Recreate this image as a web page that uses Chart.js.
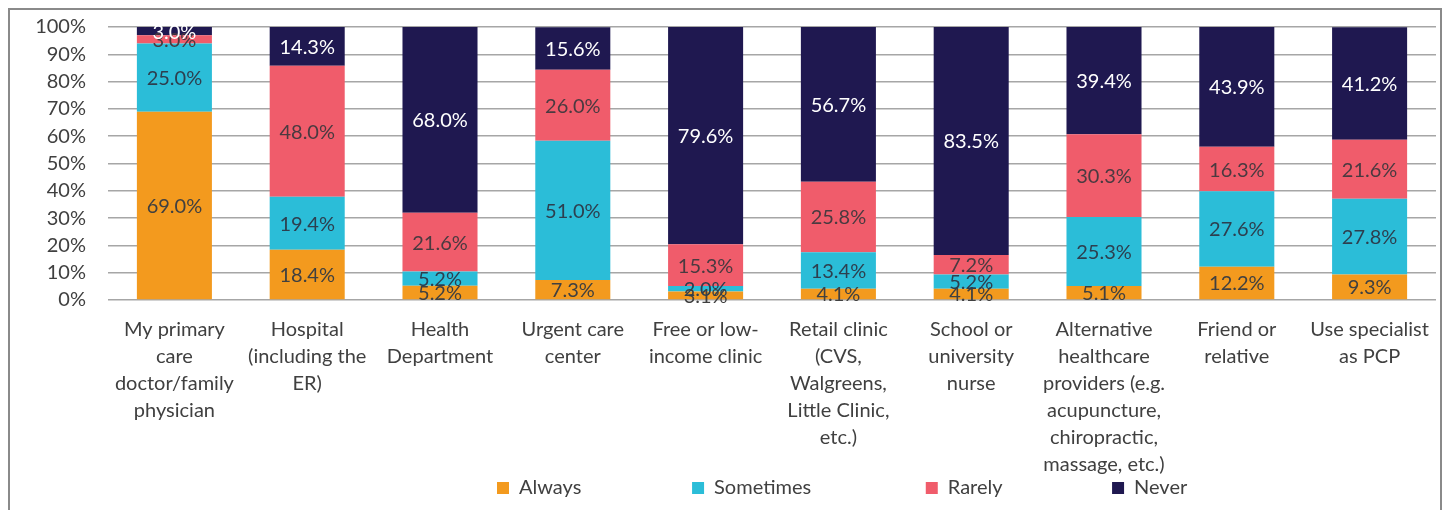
<!DOCTYPE html>
<html>
<head>
<meta charset="utf-8">
<script src="https://cdn.jsdelivr.net/npm/chart.js@4.4.0/dist/chart.umd.min.js"></script>
<style>
    html, body { margin: 0; padding: 0; background: #fff; overflow: hidden; }
    #wrap { position: absolute; left: 0; top: -7px; width: 1449px; height: 517px; }
    #frame { position: absolute; left: 8px; top: 8px; width: 1434px; height: 600px; border: 2px solid #8a8a8a; box-sizing: border-box; pointer-events: none; }
</style>
</head>
<body>
<div id="wrap"><canvas id="myChart"></canvas></div>
<div id="frame"></div>
<script>
// categories and series
const labels = [
    ['My primary', 'care', 'doctor/family', 'physician'],
    ['Hospital', '(including the', 'ER)'],
    ['Health', 'Department'],
    ['Urgent care', 'center'],
    ['Free or low-', 'income clinic'],
    ['Retail clinic', '(CVS,', 'Walgreens,', 'Little Clinic,', 'etc.)'],
    ['School or', 'university', 'nurse'],
    ['Alternative', 'healthcare', 'providers (e.g.', 'acupuncture,', 'chiropractic,', 'massage, etc.)'],
    ['Friend or', 'relative'],
    ['Use specialist', 'as PCP'],
];

const always = [69.0, 18.4, 5.2, 7.3, 3.1, 4.1, 4.1, 5.1, 12.2, 9.3];
const sometimes = [25.0, 19.4, 5.2, 51.0, 2.0, 13.4, 5.2, 25.3, 27.6, 27.8];
const rarely = [3.0, 48.0, 21.6, 26.0, 15.3, 25.8, 7.2, 30.3, 16.3, 21.6];
const never = [3.0, 14.3, 68.0, 15.6, 79.6, 56.7, 83.5, 39.4, 43.9, 41.2];

const yTicks = [0, 10, 20, 30, 40, 50, 60, 70, 80, 90, 100];

const FONT = 'Lato, "Open Sans", sans-serif';
const FS = 20;
const LP = 2; // legend padding

// legend entries sit in wide slots like the original; box left edges in px
const legendSlots = [497, 693, 927, 1114];
const mctx = document.createElement('canvas').getContext('2d');
mctx.font = FS + 'px ' + FONT;
function padText(text, target) {
    let t = text;
    while (mctx.measureText(t + ' ').width <= target) t += ' ';
    while (mctx.measureText(t + '\u200A').width <= target) t += '\u200A';
    return t;
}

// draw the value in the middle of each segment
const segmentLabels = {
    id: 'segmentLabels',
    afterDatasetsDraw(chart) {
        const ctx = chart.ctx;
        ctx.save();
        ctx.font = FS + 'px ' + FONT;
        ctx.textAlign = 'center';
        ctx.textBaseline = 'middle';
        chart.data.datasets.forEach((ds, i) => {
            const meta = chart.getDatasetMeta(i);
            meta.data.forEach((bar, j) => {
                ctx.fillStyle = ds.labelColor;
                ctx.fillText(ds.data[j].toFixed(1) + '%', bar.x, (bar.y + bar.base) / 2 + 1);
            });
        });
        ctx.restore();
    }
};

// move the legend row to where the original has it
const legendShift = {
    id: 'legendShift',
    afterLayout(chart) {
        const lg = chart.legend;
        const w = lg.right - lg.left;
        lg.left = legendSlots[0] - LP;
        lg.right = lg.left + w;
    }
};

const data = {
    labels: labels,
    datasets: [
        { label: 'Always', data: always, backgroundColor: '#f39a1e', labelColor: '#404040' },
        { label: 'Sometimes', data: sometimes, backgroundColor: '#2bbdd8', labelColor: '#2d3f4f' },
        { label: 'Rarely', data: rarely, backgroundColor: '#f05c6b', labelColor: '#4a3a40' },
        { label: 'Never', data: never, backgroundColor: '#1f1850', labelColor: '#ffffff' },
    ]
};

const config = {
    type: 'bar',
    data: data,
    plugins: [segmentLabels, legendShift],
    options: {
        responsive: true,
        maintainAspectRatio: false,
        animation: false,
        datasets: {
            bar: { barPercentage: 0.565, categoryPercentage: 1.0 }
        },
        layout: { autoPadding: false, padding: { left: 8, right: 13, top: 26, bottom: 2 } },
        scales: {
            x: {
                stacked: true,
                grid: { display: false, drawTicks: false },
                border: { display: false },
                ticks: {
                    color: '#404040',
                    font: { family: FONT, size: FS, lineHeight: 1.35 },
                    padding: 16,
                    maxRotation: 0,
                    autoSkip: false,
                },
                afterFit(scale) { scale.height = 176; }
            },
            y: {
                stacked: true,
                min: 0,
                max: 100,
                afterBuildTicks(scale) { scale.ticks = yTicks.map(v => ({ value: v })); },
                grid: { color: '#a6a6a6', lineWidth: 1.5, drawTicks: false },
                border: { display: false },
                ticks: {
                    color: '#404040',
                    font: { family: FONT, size: FS },
                    padding: 22,
                    autoSkip: false,
                    callback: v => v + '%'
                },
                afterFit(scale) { scale.width = 100; }
            }
        },
        plugins: {
            legend: {
                position: 'bottom',
                align: 'start',
                labels: {
                    color: '#404040',
                    font: { family: FONT, size: FS },
                    boxWidth: 12,
                    boxHeight: 12,
                    padding: LP,
                    generateLabels(chart) {
                        const items = Chart.defaults.plugins.legend.labels.generateLabels(chart);
                        items.forEach((it, i) => {
                            if (i < legendSlots.length - 1) {
                                const target = legendSlots[i + 1] - legendSlots[i] - 12 - FS / 2 - LP;
                                it.text = padText(it.text, target);
                            }
                        });
                        return items;
                    }
                }
            },
            tooltip: { enabled: false }
        }
    }
};

const myChart = new Chart(
    document.getElementById('myChart'),
    config
);
</script>
</body>
</html>
